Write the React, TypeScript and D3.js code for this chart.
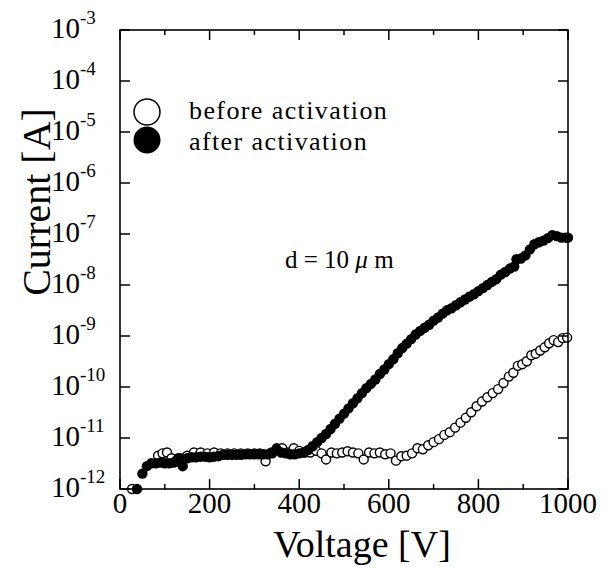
import React from "react";
import { scaleLinear, scaleLog } from "d3";

const voltsAfter = [
  38, 50, 60, 70, 80, 90, 100, 110, 120, 130, 140, 150, 160, 170, 180, 190, 200, 210, 220, 230,
  240, 250, 260, 270, 280, 290, 300, 310, 320, 330, 340, 350, 360, 370, 380, 390, 400, 410, 420,
  430, 440, 450, 460, 470, 480, 490, 500, 510, 520, 530, 540, 550, 560, 570, 580, 590, 600, 610,
  620, 630, 640, 650, 660, 670, 680, 690, 700, 710, 720, 730, 740, 750, 760, 770, 780, 790, 800,
  810, 820, 830, 840, 850, 860, 870, 880, 885, 895, 905, 915, 925, 935, 945, 955, 965, 975, 985,
  995, 1000,
];
const currentAfter = [
  1.0e-12, 2.0e-12, 2.8e-12, 3.2e-12, 3.2e-12, 3.3e-12, 3.2e-12, 3.2e-12, 3.3e-12, 4.0e-12,
  2.8e-12, 4.0e-12, 4.2e-12, 4.2e-12, 4.3e-12, 4.3e-12, 4.2e-12, 4.3e-12, 4.4e-12, 4.7e-12,
  4.7e-12, 4.7e-12, 4.7e-12, 4.7e-12, 4.8e-12, 4.8e-12, 4.8e-12, 4.8e-12, 4.8e-12, 4.8e-12,
  5.0e-12, 6.0e-12, 5.2e-12, 5.0e-12, 4.8e-12, 4.8e-12, 5.0e-12, 5.2e-12, 5.8e-12, 6.9e-12,
  8.3e-12, 1.0e-11, 1.2e-11, 1.5e-11, 1.9e-11, 2.4e-11, 3.0e-11, 3.8e-11, 4.8e-11, 6.0e-11,
  7.6e-11, 9.5e-11, 1.15e-10, 1.4e-10, 1.8e-10, 2.2e-10, 2.8e-10, 3.5e-10, 4.6e-10, 5.8e-10,
  7.1e-10, 8.7e-10, 1.07e-9, 1.26e-9, 1.45e-9, 1.66e-9, 2.0e-9, 2.3e-9, 2.75e-9, 3.2e-9, 3.5e-9,
  4.0e-9, 4.6e-9, 5.2e-9, 5.9e-9, 6.6e-9, 7.6e-9, 8.7e-9, 1.0e-8, 1.15e-8, 1.3e-8, 1.6e-8,
  1.8e-8, 2.1e-8, 2.3e-8, 3.2e-8, 3.3e-8, 3.8e-8, 5.0e-8, 6.3e-8, 6.9e-8, 7.4e-8, 8.3e-8,
  9.5e-8, 9.1e-8, 8.5e-8, 8.5e-8, 8.5e-8,
];

const voltsBefore = [
  27, 85, 95, 105, 115, 125, 135, 150, 165, 180, 195, 210, 225, 240, 255, 270, 285, 300, 312, 325,
  338, 350, 362, 375, 388, 400, 412, 425, 438, 450, 460, 472, 484, 496, 508, 520, 532, 544, 556,
  568, 580, 592, 604, 616, 628, 640, 652, 664, 676, 688, 700, 712, 724, 736, 748, 760, 772, 784,
  796, 808, 820, 832, 844, 856, 868, 878, 888, 898, 908, 918, 928, 938, 948, 958, 968, 978, 988,
  998,
];
const currentBefore = [
  1.0e-12, 4.5e-12, 5.0e-12, 5.2e-12, 4.0e-12, 3.5e-12, 4.0e-12, 4.5e-12, 5.2e-12, 5.2e-12,
  5.0e-12, 5.2e-12, 5.0e-12, 5.0e-12, 5.0e-12, 5.0e-12, 5.0e-12, 5.0e-12, 5.0e-12, 3.5e-12,
  5.2e-12, 6.3e-12, 6.3e-12, 5.2e-12, 6.3e-12, 5.6e-12, 5.2e-12, 5.2e-12, 5.6e-12, 5.0e-12,
  3.8e-12, 5.2e-12, 5.0e-12, 5.2e-12, 5.5e-12, 5.2e-12, 5.0e-12, 3.8e-12, 5.2e-12, 5.0e-12,
  5.2e-12, 4.8e-12, 5.0e-12, 3.6e-12, 4.4e-12, 4.5e-12, 5.0e-12, 6.3e-12, 6.0e-12, 7.2e-12,
  8.3e-12, 9.5e-12, 1.15e-11, 1.3e-11, 1.6e-11, 2.0e-11, 2.5e-11, 3.2e-11, 4.2e-11, 5.2e-11,
  6.3e-11, 7.6e-11, 9.1e-11, 1.2e-10, 1.6e-10, 1.9e-10, 2.6e-10, 2.8e-10, 3.2e-10, 4.2e-10,
  4.5e-10, 5.2e-10, 6.0e-10, 7.2e-10, 8.3e-10, 7.6e-10, 9.1e-10, 9.3e-10,
];

const xMajor = [0, 200, 400, 600, 800, 1000];
const xMinor = [100, 300, 500, 700, 900];
const yExponents = [-12, -11, -10, -9, -8, -7, -6, -5, -4, -3];

const legendLabels = ["before activation", "after activation"];

const FONT = "'Liberation Serif', 'Times New Roman', serif";

export default function App() {
  const left = 120, right = 568, top = 30, bottom = 489;
  const x = scaleLinear().domain([0, 1000]).range([left, right]);
  const y = scaleLog().domain([1e-12, 1e-3]).range([bottom, top]);

  return (
    <svg
      width={609}
      height={570}
      style={{ position: "absolute", left: 0, top: 0, background: "#fff" }}
      fontFamily={FONT}
    >
      {/* data: open first, filled on top */}
      {voltsBefore.map((v, i) => (
        <circle key={"b" + i} cx={x(v)} cy={y(currentBefore[i])} r={4.5} fill="#fff" stroke="#000" strokeWidth={1.4} />
      ))}
      {voltsAfter.map((v, i) => (
        <circle key={"a" + i} cx={x(v)} cy={y(currentAfter[i])} r={5.2} fill="#000" />
      ))}

      {/* frame */}
      <rect x={left} y={top} width={right - left} height={bottom - top} fill="none" stroke="#000" strokeWidth={1.6} />

      {/* x ticks, bottom and top */}
      {xMajor.map((v) => (
        <g key={"xM" + v}>
          <line x1={x(v)} x2={x(v)} y1={bottom} y2={bottom - 10} stroke="#000" strokeWidth={1.5} />
          <line x1={x(v)} x2={x(v)} y1={top} y2={top + 10} stroke="#000" strokeWidth={1.5} />
          <text x={x(v)} y={513} fontSize={29} textAnchor="middle">{v}</text>
        </g>
      ))}
      {xMinor.map((v) => (
        <g key={"xm" + v}>
          <line x1={x(v)} x2={x(v)} y1={bottom} y2={bottom - 5} stroke="#000" strokeWidth={1.5} />
          <line x1={x(v)} x2={x(v)} y1={top} y2={top + 5} stroke="#000" strokeWidth={1.5} />
        </g>
      ))}

      {/* y ticks, left and right */}
      {yExponents.map((e) => {
        const py = y(Math.pow(10, e));
        return (
          <g key={"y" + e}>
            <line x1={left} x2={left + 10} y1={py} y2={py} stroke="#000" strokeWidth={1.5} />
            <line x1={right} x2={right - 10} y1={py} y2={py} stroke="#000" strokeWidth={1.5} />
            <text x={51} y={py + 8} fontSize={29}>10</text>
            <text x={80} y={py - 6} fontSize={19}>{"-" + Math.abs(e)}</text>
          </g>
        );
      })}

      {/* axis titles */}
      <text x={362} y={557} fontSize={38} textAnchor="middle">Voltage [V]</text>
      <text transform="translate(50,202) rotate(-90)" fontSize={40} textAnchor="middle">Current [A]</text>

      {/* legend */}
      <circle cx={147} cy={112} r={13} fill="#fff" stroke="#000" strokeWidth={1.5} />
      <circle cx={147} cy={140} r={13.5} fill="#000" />
      <text x={189} y={119} fontSize={26} letterSpacing={1.4}>{legendLabels[0]}</text>
      <text x={189} y={150} fontSize={26} letterSpacing={1.4}>{legendLabels[1]}</text>

      {/* annotation */}
      <text x={285} y={268} fontSize={25}>
        d = 10 <tspan fontStyle="italic">μ</tspan> m
      </text>
    </svg>
  );
}
